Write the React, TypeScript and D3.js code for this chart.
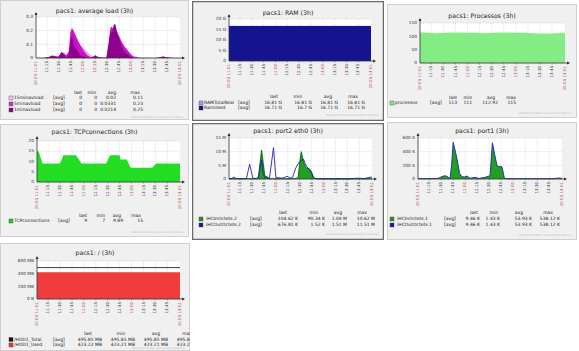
import React from 'react';
import * as d3 from 'd3';

// x axis: minutes after 20.05 11:01
const tickMins = [14, 29, 44, 59, 74, 89, 104, 119, 134, 149, 164];
const tickLabels = ['11:15', '11:30', '11:45', '12:00', '12:15', '12:30', '12:45', '13:00', '13:15', '13:30', '13:45'];
const redTicks = ['12:00', '13:00'];
const startLabel = '20.05 11:01';
const endLabel = '20.05 14:01';
const statHeads = ['last', 'min', 'avg', 'max'];

// average load
const loadT = [0, 10, 16, 20, 24, 28, 32, 35, 38, 41, 43, 45, 47, 50, 53, 56, 60, 64, 68, 71, 74, 77, 82, 88, 91, 93, 95, 97, 99, 101, 104, 107, 110, 114, 118, 122, 130, 150, 156, 159, 162, 170, 180];
const load15 = [0, 0.002, 0.005, 0.01, 0.012, 0.012, 0.02, 0.025, 0.022, 0.03, 0.07, 0.09, 0.1, 0.11, 0.1, 0.09, 0.07, 0.045, 0.02, 0.012, 0.012, 0.01, 0.006, 0.004, 0.04, 0.07, 0.09, 0.1, 0.11, 0.11, 0.1, 0.09, 0.075, 0.055, 0.035, 0.015, 0.004, 0, 0.002, 0.005, 0.004, 0.001, 0];
const load5 = [0, 0, 0.008, 0.018, 0.015, 0.01, 0.04, 0.035, 0.02, 0.05, 0.19, 0.22, 0.2, 0.16, 0.12, 0.09, 0.05, 0.02, 0.005, 0.008, 0.018, 0.01, 0.004, 0.002, 0.1, 0.22, 0.23, 0.2, 0.21, 0.19, 0.16, 0.12, 0.09, 0.06, 0.03, 0.01, 0, 0, 0.004, 0.01, 0.006, 0, 0];
const load1 = [0, 0, 0.005, 0.017, 0.01, 0.005, 0.045, 0.02, 0, 0.02, 0.12, 0.16, 0.1, 0.07, 0.04, 0.02, 0.01, 0, 0, 0.005, 0.02, 0.005, 0, 0, 0.12, 0.2, 0.18, 0.24, 0.25, 0.2, 0.14, 0.09, 0.05, 0.03, 0.01, 0, 0, 0, 0.005, 0.012, 0.003, 0, 0];

// RAM (G)
const ramT = [0, 30, 60, 90, 120, 150, 180];
const ramTotal = [16.81, 16.81, 16.81, 16.81, 16.81, 16.81, 16.81];
const ramUsed = [16.71, 16.7, 16.71, 16.71, 16.71, 16.71, 16.71];

// processes
const procT = [0, 10, 20, 30, 40, 50, 60, 70, 80, 90, 100, 110, 120, 130, 140, 150, 160, 170, 180];
const procV = [115, 113, 112, 113, 114, 114, 113, 113, 112, 113, 114, 114, 113, 113, 112, 111, 111, 112, 113];

// TCP connections
const tcpT = [0, 2, 7, 29, 33, 49, 56, 87, 92, 104, 105, 113, 118, 145, 150, 180];
const tcpV = [15, 15, 9, 9, 13, 13, 9, 9, 13, 13, 11, 11, 7, 7, 9, 9];

// port2 eth0 (M)
const p2T = [0, 3, 6, 9, 22, 26, 30, 35, 37, 41, 43, 45, 48, 51, 56, 59, 68, 73, 77, 80, 84, 87, 89, 91, 94, 96, 98, 102, 104, 106, 108, 112, 130, 150, 163, 170, 178, 180];
const p2In = [0.1, 0.1, 0.1, 0.1, 0.1, 0.1, 0.1, 0.1, 0.8, 10.6, 6, 1.2, 0.8, 0.1, 0.1, 0.1, 0.1, 0.1, 0.1, 0.1, 0.2, 0.5, 6, 10, 6, 4.5, 4, 3.5, 2.5, 1, 0.2, 0.1, 0.1, 0.1, 0.1, 0.1, 0.1, 0.1];
const p2Out = [0.05, 0.1, 0.7, 0.15, 0.2, 5.4, 0.3, 0.2, 0.3, 7, 2, 0.5, 0.3, 0.3, 11.5, 0.5, 0.3, 1, 0.3, 0.6, 4, 5.5, 6.2, 6.8, 7.2, 5.5, 4.5, 3.2, 2, 0.5, 0.2, 0.1, 0.05, 0.05, 0.3, 0.1, 0.7, 0.6];

// port1 (K)
const p1T = [0, 10, 25, 29, 33, 36, 40, 42, 44, 46, 49, 52, 55, 58, 61, 65, 71, 76, 84, 88, 90, 93, 96, 99, 105, 108, 112, 130, 150, 170, 176, 180];
const p1In = [5, 5, 8, 30, 48, 40, 8, 200, 538, 440, 280, 80, 34, 30, 43, 10, 24, 8, 24, 43, 40, 530, 350, 187, 178, 10, 5, 5, 5, 5, 15, 8];
const p1Out = [5, 5, 8, 30, 48, 40, 8, 200, 538, 440, 280, 80, 34, 30, 43, 10, 24, 8, 24, 43, 40, 530, 350, 187, 178, 10, 5, 5, 5, 5, 15, 8];

// disk (MB)
const hddT = [0, 60, 120, 180];
const hddTotal = [495.85, 495.85, 495.85, 495.85];
const hddUsed = [423.22, 423.21, 423.21, 423.22];

type Series = { t: number[]; v: number[]; color: string; kind: 'area' | 'line' };
type LegendRow = { name: string; color: string; stats: string[] };
type GraphProps = {
  box: number[];
  dark?: boolean;
  title: string;
  titleY: number;
  plot: number[];
  yMax: number;
  yTicks: number[];
  yLabels: string[];
  series: Series[];
  rows: LegendRow[];
  legendX: number[];
  valRight: number[];
  headRight: number[];
  headY: number;
  rowY: number[];
  footY: number;
  id: string;
};

const FONT = 'DejaVu Sans';

function Graph(p: GraphProps) {
  const [bx, by, bw, bh] = p.box;
  const [l, t, r, b] = p.plot;
  const x = d3.scaleLinear().domain([0, 180]).range([l, r]);
  const y = d3.scaleLinear().domain([0, p.yMax]).range([b, t]);
  return (
    <g>
      <clipPath id={p.id}>
        <rect x={bx} y={by} width={bw} height={bh} />
      </clipPath>
      <g clipPath={`url(#${p.id})`}>
        <rect x={bx + 0.5} y={by + 0.5} width={bw - 1} height={bh - 1} fill="#f0f0f0"
          stroke={p.dark ? '#6a6a6a' : '#cfcfcf'} strokeWidth={p.dark ? 1.5 : 1} />
        <text x={bx + bw / 2} y={p.titleY} fontSize={6.2} textAnchor="middle" dominantBaseline="middle" fill="#222">{p.title}</text>
        <rect x={l} y={t} width={r - l} height={b - t} fill="#fff" />
        {p.yTicks.map((v, i) => (
          <g key={'y' + i}>
            <line x1={l} x2={r} y1={y(v)} y2={y(v)} stroke="#d4d4d4" strokeWidth={0.6} strokeDasharray="1.5,1" />
            <text x={l - 3} y={y(v)} fontSize={4.3} textAnchor="end" dominantBaseline="middle" fill="#333">{p.yLabels[i]}</text>
          </g>
        ))}
        {tickMins.map((m, i) => (
          <line key={'g' + i} x1={x(m)} x2={x(m)} y1={t} y2={b} stroke="#d4d4d4" strokeWidth={0.6} strokeDasharray="1.5,1" />
        ))}
        {p.series.map((s, i) => {
          const pts = s.t.map((tt, k) => [tt, s.v[k]] as [number, number]);
          if (s.kind === 'area') {
            const a = d3.area<[number, number]>().x(d => x(d[0])).y0(b).y1(d => y(d[1]));
            return <path key={'s' + i} d={a(pts) || ''} fill={s.color} />;
          }
          const ln = d3.line<[number, number]>().x(d => x(d[0])).y(d => y(d[1]));
          return <path key={'s' + i} d={ln(pts) || ''} fill="none" stroke={s.color} strokeWidth={0.9} />;
        })}
        <line x1={l} x2={l} y1={b} y2={t - 4} stroke="#333" strokeWidth={0.8} />
        <path d={`M${l - 1.5},${t - 2} L${l},${t - 5} L${l + 1.5},${t - 2} Z`} fill="#333" />
        <line x1={l} x2={r + 4} y1={b} y2={b} stroke="#333" strokeWidth={0.8} />
        <path d={`M${r + 2},${b - 1.5} L${r + 5},${b} L${r + 2},${b + 1.5} Z`} fill="#333" />
        {tickMins.map((m, i) => (
          <g key={'x' + i}>
            <line x1={x(m)} x2={x(m)} y1={b} y2={b + 1.5} stroke="#555" strokeWidth={0.5} />
            <text transform={`translate(${x(m)},${b + 3}) rotate(-90)`} fontSize={4} textAnchor="end" dominantBaseline="middle"
              fill={redTicks.includes(tickLabels[i]) ? '#b05050' : '#333'}>{tickLabels[i]}</text>
          </g>
        ))}
        <text transform={`translate(${x(0)},${b + 3}) rotate(-90)`} fontSize={4} textAnchor="end" dominantBaseline="middle" fill="#b05050">{startLabel}</text>
        <text transform={`translate(${x(180)},${b + 3}) rotate(-90)`} fontSize={4} textAnchor="end" dominantBaseline="middle" fill="#b05050">{endLabel}</text>
        {statHeads.map((h, i) => (
          <text key={'h' + i} x={p.headRight[i]} y={p.headY} fontSize={4.5} textAnchor="end" dominantBaseline="middle" fill="#222">{h}</text>
        ))}
        {p.rows.map((row, i) => (
          <g key={'r' + i}>
            <rect x={p.legendX[0]} y={p.rowY[i] - 2} width={4} height={4} fill={row.color} stroke="#444" strokeWidth={0.4} />
            <text x={p.legendX[1]} y={p.rowY[i]} fontSize={4.5} dominantBaseline="middle" fill="#222">{row.name}</text>
            <text x={p.legendX[2]} y={p.rowY[i]} fontSize={4.5} dominantBaseline="middle" fill="#222">[avg]</text>
            {row.stats.map((s, k) => (
              <text key={k} x={p.valRight[k]} y={p.rowY[i]} fontSize={4.5} textAnchor="end" dominantBaseline="middle" fill="#222">{s}</text>
            ))}
          </g>
        ))}
        <text x={bx + bw - 5} y={p.footY} fontSize={2.6} textAnchor="end" dominantBaseline="middle" fill="#b8b8b8">Data from history. Generated in 0.08 sec</text>
      </g>
    </g>
  );
}

export default function App() {
  return (
    <svg width={579} height={351} style={{ position: 'absolute', left: 0, top: 0, fontFamily: FONT, background: '#fff' }}>
      <Graph id="c1" box={[0, 0, 189, 120]} title="pacs1: average load (3h)" titleY={11} plot={[36, 17, 180, 58]}
        yMax={0.3} yTicks={[0, 0.1, 0.2, 0.3]} yLabels={['0', '0.1', '0.2', '0.3']}
        series={[
          { t: loadT, v: load15, color: '#eaa2ea', kind: 'area' },
          { t: loadT, v: load5, color: '#cc11cc', kind: 'area' },
          { t: loadT, v: load1, color: '#8e008e', kind: 'area' },
        ]}
        rows={[
          { name: '15minavload', color: '#f4c4f4', stats: ['0', '0', '0.02', '0.11'] },
          { name: '5minavload', color: '#cc33cc', stats: ['0', '0', '0.0331', '0.23'] },
          { name: '1minavload', color: '#8e008e', stats: ['0', '0', '0.0214', '0.25'] },
        ]}
        legendX={[9, 14, 53]} valRight={[82, 97, 116, 143]} headRight={[82, 96, 116, 140]}
        headY={93} rowY={[98, 104, 110]} footY={117} />
      <Graph id="c2" dark box={[192, 1, 192, 120]} title="pacs1: RAM (3h)" titleY={13} plot={[229, 19, 371, 61]}
        yMax={20} yTicks={[0, 5, 10, 15, 20]} yLabels={['0', '5 G', '10 G', '15 G', '20 G']}
        series={[
          { t: ramT, v: ramTotal, color: '#9f9ff5', kind: 'area' },
          { t: ramT, v: ramUsed, color: '#14148f', kind: 'area' },
        ]}
        rows={[
          { name: 'RAMTotalReal', color: '#9f9ff5', stats: ['16.81 G', '16.81 G', '16.81 G', '16.81 G'] },
          { name: 'RamUsed', color: '#14148f', stats: ['16.71 G', '16.7 G', '16.71 G', '16.71 G'] },
        ]}
        legendX={[199, 204, 238]} valRight={[282, 312, 338, 365]} headRight={[278, 302, 332, 358]}
        headY={97} rowY={[103, 108]} footY={115} />
      <Graph id="c3" box={[387, 4, 190, 114]} title="pacs1: Processos (3h)" titleY={16} plot={[420, 23, 565, 63]}
        yMax={150} yTicks={[0, 50, 100, 150]} yLabels={['0', '50', '100', '150']}
        series={[{ t: procT, v: procV, color: '#84ec84', kind: 'area' }]}
        rows={[{ name: 'processos', color: '#84ec84', stats: ['113', '111', '112.92', '115'] }]}
        legendX={[390, 395, 430]} valRight={[457, 472, 498, 516]} headRight={[457, 472, 495, 516]}
        headY={98} rowY={[103]} footY={113} />
      <Graph id="c4" box={[0, 124, 189, 113]} title="pacs1: TCPconnections (3h)" titleY={132} plot={[37, 141, 180, 182]}
        yMax={20} yTicks={[0, 5, 10, 15, 20]} yLabels={['0', '5', '10', '15', '20']}
        series={[{ t: tcpT, v: tcpV, color: '#22dd22', kind: 'area' }]}
        rows={[{ name: 'TCPconnections', color: '#22cc22', stats: ['9', '7', '9.89', '15'] }]}
        legendX={[9, 14, 58]} valRight={[87, 105, 123, 143]} headRight={[87, 105, 121, 141]}
        headY={216} rowY={[221]} footY={232} />
      <Graph id="c5" dark box={[192, 123, 192, 117]} title="pacs1: port2 eth0 (3h)" titleY={131} plot={[229, 138, 372, 179]}
        yMax={15} yTicks={[0, 5, 10, 15]} yLabels={['0', '5 M', '10 M', '15 M']}
        series={[
          { t: p2T, v: p2In, color: '#1fa01f', kind: 'area' },
          { t: p2T, v: p2In, color: '#106010', kind: 'line' },
          { t: p2T, v: p2Out, color: '#2020b0', kind: 'line' },
        ]}
        rows={[
          { name: 'iHCInOctets.2', color: '#1f9a1f', stats: ['104.62 K', '90.34 K', '1.04 M', '10.62 M'] },
          { name: 'iHCOutOctets.2', color: '#1c1c9a', stats: ['676.81 K', '1.52 K', '1.51 M', '11.51 M'] },
        ]}
        legendX={[199, 206, 250]} valRight={[298, 325, 347, 375]} headRight={[287, 318, 342, 367]}
        headY={213} rowY={[219, 225]} footY={234} />
      <Graph id="c6" box={[387, 122, 190, 118]} title="pacs1: port1 (3h)" titleY={131} plot={[418, 138, 562, 179]}
        yMax={600} yTicks={[0, 200, 400, 600]} yLabels={['0', '200 K', '400 K', '600 K']}
        series={[
          { t: p1T, v: p1In, color: '#1fa01f', kind: 'area' },
          { t: p1T, v: p1Out, color: '#2020b0', kind: 'line' },
        ]}
        rows={[
          { name: 'iHCInOctets.1', color: '#1f9a1f', stats: ['9.46 K', '1.43 K', '53.93 K', '538.12 K'] },
          { name: 'iHCOutOctets.1', color: '#1c1c9a', stats: ['9.46 K', '1.43 K', '53.93 K', '538.12 K'] },
        ]}
        legendX={[390, 397, 444]} valRight={[480, 500, 532, 560]} headRight={[478, 498, 523, 553]}
        headY={213} rowY={[219, 225]} footY={235} />
      <Graph id="c7" box={[0, 243, 190, 108]} title="pacs1: / (3h)" titleY={253} plot={[37, 261, 180, 299]}
        yMax={600} yTicks={[0, 200, 400, 600]} yLabels={['0 B', '200 MB', '400 MB', '600 MB']}
        series={[
          { t: hddT, v: hddUsed, color: '#f03c3c', kind: 'area' },
          { t: hddT, v: hddTotal, color: '#222', kind: 'line' },
        ]}
        rows={[
          { name: '/HDD1_Total', color: '#111', stats: ['495.85 MB', '495.85 MB', '495.85 MB', '495.85 MB'] },
          { name: '/HDD1_Used', color: '#ee3333', stats: ['423.22 MB', '423.21 MB', '423.21 MB', '423.22 MB'] },
        ]}
        legendX={[9, 14, 53]} valRight={[102, 135, 168, 201]} headRight={[92, 125, 160, 192]}
        headY={334} rowY={[339.5, 345]} footY={348.5} />
    </svg>
  );
}
